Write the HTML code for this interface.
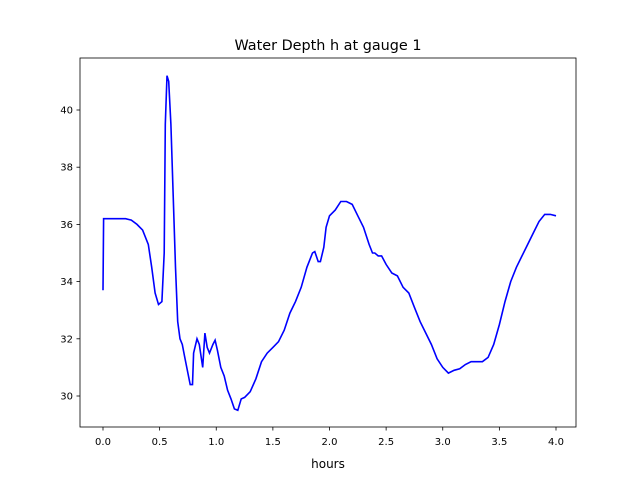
<!DOCTYPE html>
<html><head><meta charset="utf-8"><style>
body{margin:0;background:#fff;}
svg text{font-family:"DejaVu Sans","Liberation Sans",sans-serif;}
</style></head><body>
<svg id="chart" width="640" height="480" xmlns="http://www.w3.org/2000/svg">
<rect width="640" height="480" fill="#fff"/>
<text x="328" y="50" font-size="14.4" text-anchor="middle">Water Depth h at gauge 1</text>
<g id="ticks"></g>
<path id="line" fill="none" stroke="#0000ff" stroke-width="1.6"/>
<rect x="80" y="58" width="496" height="369" fill="none" stroke="#000" stroke-width="0.8"/>
<text x="328" y="468" font-size="12" text-anchor="middle">hours</text>
</svg>
<script>
const times=[0,0.005,0.1,0.2,0.25,0.3,0.35,0.4,0.43,0.46,0.49,0.52,0.54,0.55,0.565,0.58,0.6,0.62,0.64,0.66,0.68,0.7,0.72,0.75,0.77,0.79,0.8,0.83,0.85,0.88,0.9,0.92,0.94,0.97,0.99,1.01,1.04,1.07,1.1,1.13,1.16,1.19,1.22,1.25,1.3,1.35,1.4,1.45,1.5,1.55,1.6,1.65,1.7,1.75,1.8,1.85,1.87,1.9,1.92,1.95,1.97,2.0,2.05,2.1,2.15,2.2,2.25,2.3,2.35,2.38,2.4,2.43,2.46,2.5,2.55,2.6,2.65,2.7,2.75,2.8,2.85,2.9,2.95,3.0,3.05,3.1,3.15,3.2,3.25,3.3,3.35,3.4,3.45,3.5,3.55,3.6,3.65,3.7,3.75,3.8,3.85,3.9,3.95,4.0];
const depths=[33.7,36.2,36.2,36.2,36.15,36.0,35.8,35.3,34.5,33.6,33.2,33.3,35,39.5,41.2,41.0,39.5,37,34.5,32.6,32.0,31.8,31.4,30.8,30.4,30.4,31.5,32.0,31.8,31.0,32.2,31.7,31.5,31.8,31.95,31.6,31.0,30.7,30.2,29.9,29.55,29.5,29.9,29.95,30.15,30.6,31.2,31.5,31.7,31.9,32.3,32.9,33.3,33.8,34.5,35.0,35.05,34.7,34.7,35.2,35.9,36.3,36.5,36.8,36.8,36.7,36.3,35.9,35.3,35.0,35.0,34.9,34.9,34.6,34.3,34.2,33.8,33.6,33.1,32.6,32.2,31.8,31.3,31.0,30.8,30.9,30.95,31.1,31.2,31.2,31.2,31.35,31.8,32.5,33.3,34.0,34.5,34.9,35.3,35.7,36.1,36.35,36.35,36.3];
const xTicks=[0,0.5,1,1.5,2,2.5,3,3.5,4];
const yTicks=[30,32,34,36,38,40];
const X=v=>103+v*113.25, Y=v=>396-(v-30)*28.6;
const ns="http://www.w3.org/2000/svg", g=document.getElementById('ticks');
function add(tag,attrs,txt){const e=document.createElementNS(ns,tag);for(const k in attrs)e.setAttribute(k,attrs[k]);if(txt!==undefined)e.textContent=txt;g.appendChild(e);return e;}
xTicks.forEach(t=>{
 const l=add('line',{x1:X(t),x2:X(t),y1:427,y2:430.5,stroke:'#000','stroke-width':0.8});
 
 
 const s=add('text',{x:X(t),y:445,'font-size':10,'text-anchor':'middle'},t.toFixed(1));
 
 
});
yTicks.forEach(t=>{
 const l=add('line',{x1:76.5,x2:80,y1:Y(t),y2:Y(t),stroke:'#000','stroke-width':0.8});
 
 
 const s=add('text',{x:73,y:Y(t)+3.5,'font-size':10,'text-anchor':'end'},String(t));
 
 
});
document.getElementById('line').setAttribute('d',times.map((t,i)=>(i?'L':'M')+X(t).toFixed(1)+','+Y(depths[i]).toFixed(1)).join(''));
</script>
</body></html>
